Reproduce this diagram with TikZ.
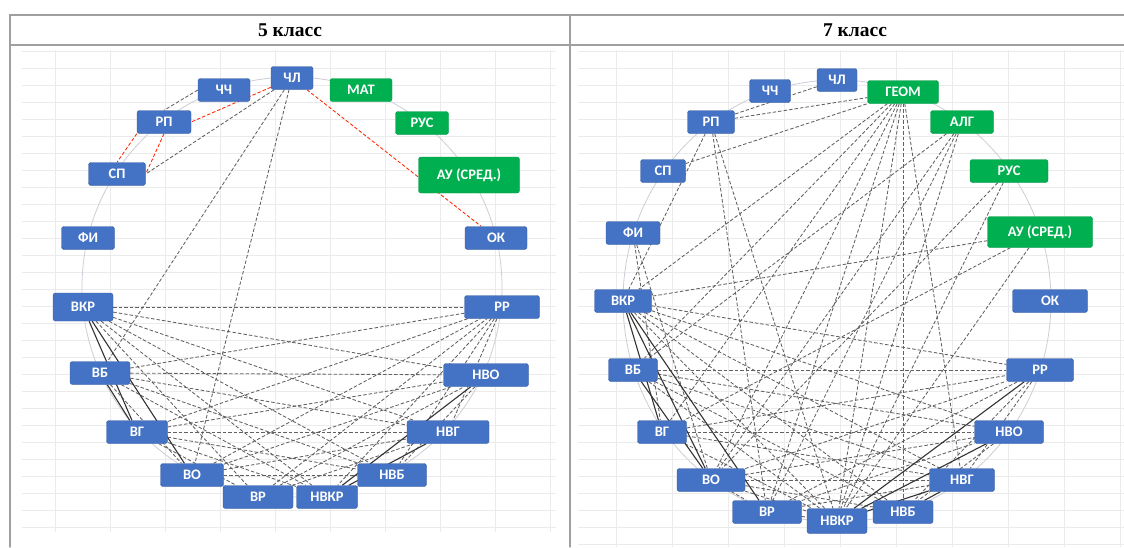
\documentclass[tikz,border=0pt]{standalone}
\usepackage{fontspec}
\setmainfont{Liberation Serif}
\newfontfamily\calibri{Carlito}
\usepackage{tikz}
\usetikzlibrary{backgrounds}
\definecolor{boxblue}{HTML}{4472C4}
\definecolor{boxgreen}{HTML}{00B050}

\begin{document}
\begin{tikzpicture}[x=1pt,y=-1pt,line cap=round,
  bx/.style={fill=boxblue,draw=boxblue!80!black,line width=0.4pt,rounded corners=2.5pt,text=white,
    font=\calibri\bfseries\fontsize{14.5}{16}\selectfont,minimum height=23pt,inner sep=1pt},
  gbx/.style={bx,fill=boxgreen,draw=boxgreen!85!black},
  dsh/.style={dash pattern=on 3.5pt off 2pt,black!62,line width=0.85pt},
  rdsh/.style={dsh,red!70!orange},
  sld/.style={black!80,line width=1.1pt},
  rimline/.style={blue!12!gray!35,line width=0.8pt},
  sheetgrid/.style={gray!16,line width=0.4pt},
  ttl/.style={font=\bfseries\fontsize{19.5}{22}\selectfont}]
\useasboundingbox (0,0) rectangle (1124,547);
\begin{scope}[on background layer]
\fill[white] (0,0) rectangle (1124,547);
\draw[sheetgrid] (22,50) grid[xstep=55pt,ystep=17pt] (556,532);
\draw[sheetgrid] (578,50) grid[xstep=56pt,ystep=17pt] (1124,547);
\draw[rimline] (292,287) circle (210);
\draw[rimline] (837,301) ellipse (214 and 221);
\end{scope}
\draw[gray!75,line width=1.4pt] (10,547) -- (10,15) -- (1124,15);
\draw[gray!75,line width=1.2pt] (10,45) -- (1124,45);
\draw[gray!75,line width=1.2pt] (570,15) -- (570,547);
\node[ttl] (t5) at (290,30) {5 класс};
\node[ttl] (t7) at (855,30) {7 класс};

\node[bx,minimum width=42pt] (chla) at (292,78) {ЧЛ};
\node[bx,minimum width=52pt] (chcha) at (224,90) {ЧЧ};
\node[gbx,minimum width=62pt] (mata) at (361,90) {МАТ};
\node[bx,minimum width=54pt] (rpa) at (164,122) {РП};
\node[gbx,minimum width=53pt] (rusa) at (422,123) {РУС};
\node[bx,minimum width=57pt] (spa) at (117,174) {СП};
\node[gbx,minimum width=101pt,minimum height=36pt] (aua) at (469,175) {АУ (СРЕД.)};
\node[bx,minimum width=53pt] (fia) at (88,238) {ФИ};
\node[bx,minimum width=62pt] (oka) at (496,238) {ОК};
\node[bx,minimum width=60pt,minimum height=28pt] (vkra) at (83,307) {ВКР};
\node[bx,minimum width=75pt] (rra) at (502,307) {РР};
\node[bx,minimum width=60pt] (vba) at (100,373) {ВБ};
\node[bx,minimum width=85pt] (nvoa) at (486,375) {НВО};
\node[bx,minimum width=61pt] (vga) at (137,432) {ВГ};
\node[bx,minimum width=82pt] (nvga) at (448,432) {НВГ};
\node[bx,minimum width=63pt] (voa) at (192,475) {ВО};
\node[bx,minimum width=69pt] (nvba) at (392,475) {НВБ};
\node[bx,minimum width=70pt] (vra) at (258,497) {ВР};
\node[bx,minimum width=61pt] (nvkra) at (327,497) {НВКР};

\node[bx,minimum width=40pt] (chlb) at (837,80) {ЧЛ};
\node[bx,minimum width=41pt] (chchb) at (770,91) {ЧЧ};
\node[gbx,minimum width=71pt] (geomb) at (903,92) {ГЕОМ};
\node[bx,minimum width=47pt] (rpb) at (711,122) {РП};
\node[gbx,minimum width=63pt] (algb) at (962,122) {АЛГ};
\node[bx,minimum width=45pt] (spb) at (663,171) {СП};
\node[gbx,minimum width=78pt] (rusb) at (1009,171) {РУС};
\node[bx,minimum width=54pt] (fib) at (633,233) {ФИ};
\node[gbx,minimum width=105pt,minimum height=31pt] (aub) at (1040,232) {АУ (СРЕД.)};
\node[bx,minimum width=57pt] (vkrb) at (623,301) {ВКР};
\node[bx,minimum width=75pt] (okb) at (1050,301) {ОК};
\node[bx,minimum width=49pt] (vbb) at (633,370) {ВБ};
\node[bx,minimum width=67pt] (rrb) at (1040,370) {РР};
\node[bx,minimum width=49pt] (vgb) at (662,432) {ВГ};
\node[bx,minimum width=69pt] (nvob) at (1009,432) {НВО};
\node[bx,minimum width=68pt] (vob) at (711,480) {ВО};
\node[bx,minimum width=65pt] (nvgb) at (962,480) {НВГ};
\node[bx,minimum width=69pt] (vrb) at (767,512) {ВР};
\node[bx,minimum width=60pt] (nvbb) at (903,512) {НВБ};
\node[bx,minimum width=60pt,minimum height=25pt] (nvkrb) at (837,521) {НВКР};

% 5 класс
\begin{scope}[on background layer]
\draw[rdsh] (chla) -- (rpa.east);
\draw[rdsh] (chla) -- (oka);
\draw[rdsh] (rpa.south west) -- (spa.north);
\draw[rdsh] (rpa.south) -- (spa.east);
\draw[dsh] (chcha.west) -- (rpa.north);
\draw[dsh] (chla) -- (spa.east);
\foreach \a/\b in {chla/vba,chla/voa,
  vkra/rra,vkra/nvoa,vkra/nvga,vkra/nvba,vkra/nvkra,vkra/vra,
  vba/rra,vba/nvoa,vba/nvga,vba/nvba,vba/nvkra,vba/voa,
  vga/rra,vga/nvoa,vga/nvga,vga/nvba,vga/nvkra,vga/vra,
  voa/rra,voa/nvoa,voa/nvga,voa/nvba,
  vra/rra,vra/nvoa,vra/nvga,
  rra/nvga,rra/nvba,rra/nvkra,nvoa/nvba}
  \draw[dsh] (\a) -- (\b);
\foreach \a/\b in {vkra/vga,vkra/voa,vba/vga,nvkra/nvoa,nvkra/nvga,nvkra/nvba}
  \draw[sld] (\a) -- (\b);
\end{scope}

% 7 класс
\begin{scope}[on background layer]
\foreach \a/\b in {chlb/rpb,rpb/geomb,spb/geomb,
  geomb/vkrb,geomb/vbb,geomb/vgb,geomb/vob,geomb/vrb,geomb/nvkrb,geomb/nvbb,geomb/nvgb,
  algb/vbb,algb/vob,algb/vrb,algb/nvkrb,rusb/vob,rusb/nvkrb,
  aub/vkrb,aub/vgb,aub/nvkrb,rpb/vkrb,rpb/vrb,rpb/nvkrb,fib/vgb,fib/vob,
  vkrb/rrb,vkrb/nvob,vkrb/nvgb,vkrb/nvbb,vkrb/nvkrb,
  vbb/rrb,vbb/nvob,vbb/nvgb,vbb/nvbb,vbb/nvkrb,
  vgb/rrb,vgb/nvob,vgb/nvgb,vgb/nvkrb,
  vob/rrb,vob/nvob,vob/nvgb,vob/nvbb,vob/nvkrb,vob/vrb,
  vrb/rrb,vrb/nvob,vrb/nvgb,vrb/nvkrb,
  rrb/nvgb,rrb/nvbb,nvob/nvbb}
  \draw[dsh] (\a) -- (\b);
\foreach \a/\b in {vkrb/vgb,vkrb/vob,vkrb/vrb,vbb/vob,nvkrb/rrb,nvkrb/nvob,nvkrb/nvgb,nvbb/nvgb}
  \draw[sld] (\a) -- (\b);
\end{scope}
\end{tikzpicture}
\end{document}
